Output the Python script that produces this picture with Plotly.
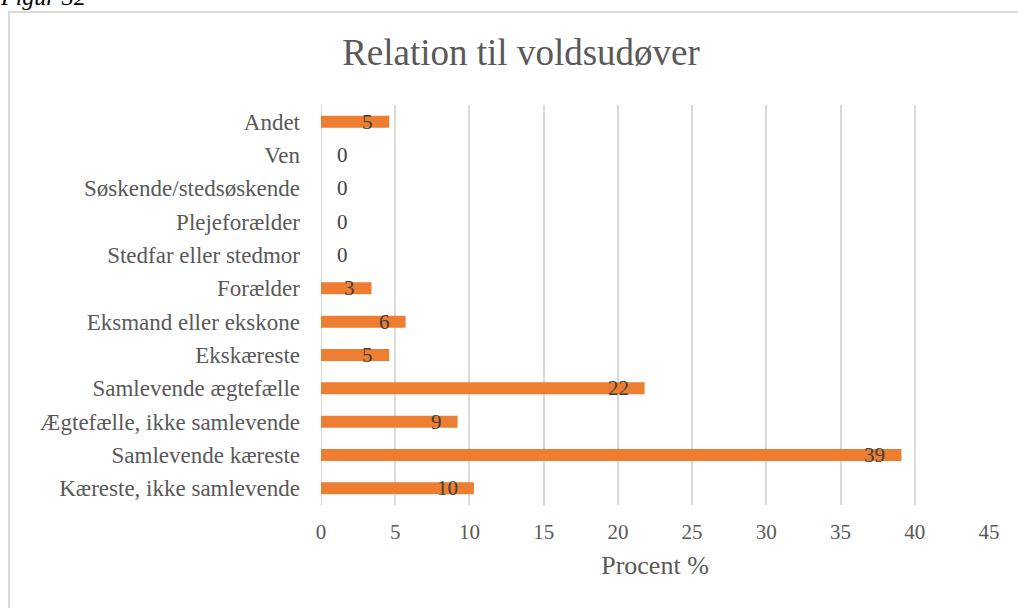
import plotly.graph_objects as go

categories = ["Kæreste, ikke samlevende", "Samlevende kæreste", "Ægtefælle, ikke samlevende",
              "Samlevende ægtefælle", "Ekskæreste", "Eksmand eller ekskone", "Forælder",
              "Stedfar eller stedmor", "Plejeforælder", "Søskende/stedsøskende", "Ven", "Andet"]
values = [10.3, 39.1, 9.2, 21.8, 4.6, 5.7, 3.4, 0, 0, 0, 0, 4.6]
x_ticks = [0, 5, 10, 15, 20, 25, 30, 35, 40, 45]

FONT = "Liberation Serif"
GREY = "#595959"

fig = go.Figure()
fig.add_trace(go.Bar(
    y=categories, x=values, orientation="h",
    marker=dict(color="#ED7D31", line=dict(width=0)),
    width=0.36, hoverinfo="x+y",
))

W, H = 1018, 608
L, R, T, B = 321, 29, 105, 103
pw, ph = W - L - R, H - T - B

def px2x(px):
    return (px - L) / pw

def py2y(py):
    return (H - B - py) / ph

annotations = []
for c, v in zip(categories, values):
    if v > 0:
        annotations.append(dict(x=v, y=c, xref="x", yref="y", text=str(round(v)),
                                showarrow=False, xanchor="right", xshift=-14,
                                font=dict(family=FONT, size=21, color="#404040")))
    else:
        annotations.append(dict(x=v, y=c, xref="x", yref="y", text=str(round(v)),
                                showarrow=False, xanchor="left", xshift=14,
                                font=dict(family=FONT, size=21, color="#404040")))

annotations.append(dict(x=px2x(-2), y=py2y(12), xref="paper", yref="paper", text="<i>Figur 32</i>",
                        showarrow=False, xanchor="left", yanchor="bottom",
                        font=dict(family=FONT, size=24, color="#000000")))

fig.update_layout(
    width=W, height=H,
    margin=dict(l=L, r=R, t=T, b=B),
    paper_bgcolor="white", plot_bgcolor="white",
    showlegend=False,
    bargap=0.64,
    title=dict(text="Relation til voldsudøver", x=521 / W, xanchor="center",
               y=1 - 52 / H, yanchor="middle",
               font=dict(family=FONT, size=37, color=GREY)),
    font=dict(family=FONT, color=GREY),
    xaxis=dict(range=[0, 45], tickvals=x_ticks, showgrid=True, gridcolor="#D9D9D9", gridwidth=2,
               zeroline=False, showline=False, ticks="",
               tickfont=dict(family=FONT, size=21, color=GREY), ticklabelstandoff=12,
               title=dict(text="Procent %", font=dict(family=FONT, size=26, color=GREY), standoff=12)),
    yaxis=dict(showgrid=False, zeroline=False, showline=False, ticks="",
               tickfont=dict(family=FONT, size=23, color=GREY), ticklabelstandoff=20,
               categoryorder="array", categoryarray=categories),
    annotations=annotations,
    shapes=[dict(type="rect", xref="paper", yref="paper",
                 x0=px2x(9), x1=px2x(1030), y0=py2y(620), y1=py2y(12),
                 line=dict(color="#D9D9D9", width=2), layer="below"),
            dict(type="line", xref="x", yref="paper", x0=0, x1=0, y0=0, y1=1,
                 line=dict(color="#D9D9D9", width=2), layer="below")],
)

fig.write_html("out.html", config={"displayModeBar": False},
               post_script="document.body.style.margin='0';document.body.style.overflow='hidden';")
